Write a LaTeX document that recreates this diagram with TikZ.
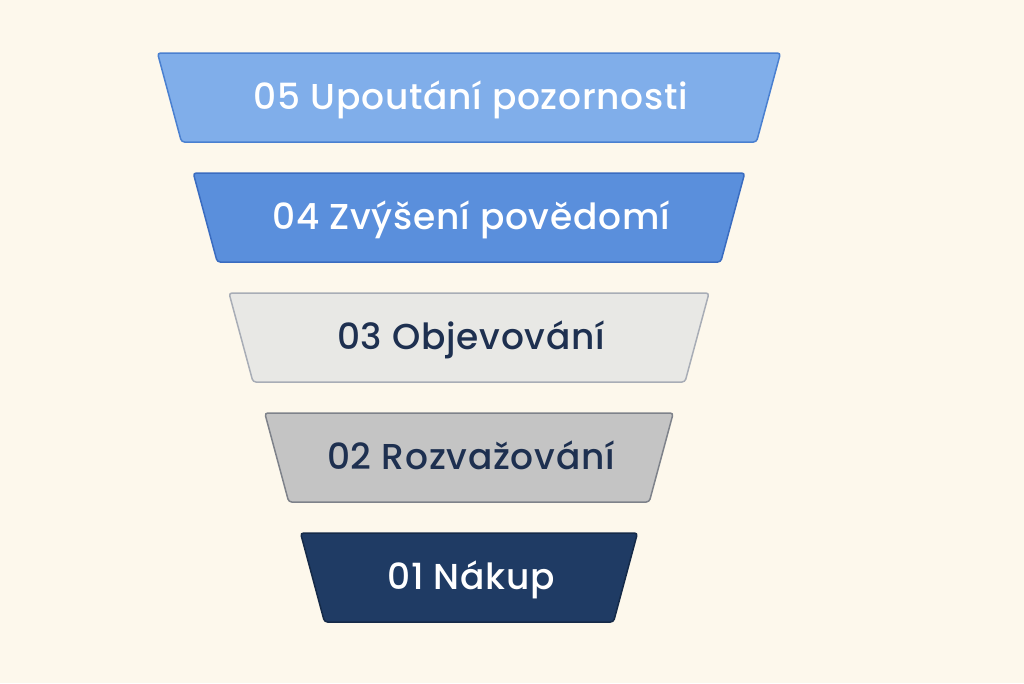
\documentclass[tikz,border=0pt]{standalone}
\usepackage{fontspec}
\setmainfont{Poppins}[BoldFont={Poppins Medium}, LetterSpace=2]
\usepackage{xcolor}
\usepackage{tikz}

\definecolor{paper}{HTML}{FDF8EC}
\definecolor{sky}{HTML}{80AEEA}
\definecolor{skyline}{HTML}{4A80D0}
\definecolor{azure}{HTML}{5A8FDC}
\definecolor{azureline}{HTML}{3A6CC0}
\definecolor{mist}{HTML}{E8E8E5}
\definecolor{mistline}{HTML}{A8ADB6}
\definecolor{stone}{HTML}{C4C4C4}
\definecolor{stoneline}{HTML}{7E828A}
\definecolor{navy}{HTML}{1F3B64}
\definecolor{navyline}{HTML}{152A48}
\definecolor{ink}{HTML}{1E3050}

\tikzset{
  level/.style={line width=1.5pt, rounded corners=3pt},
  levellabel/.style={font=\fontsize{36}{40}\selectfont\bfseries, inner sep=0pt, anchor=base}
}

\begin{document}
\begin{tikzpicture}[x=1pt, y=-1pt]

% paper and page size
\fill[paper] (0,0) rectangle (1024,683);
\useasboundingbox (0,0) rectangle (1024,683);

% five funnel levels, widest on top
 \foreach \n/\fc/\dc/\tc/\txt [count=\i] in
   {05/sky/skyline/white/Upoutání pozornosti,
    04/azure/azureline/white/Zvýšení povědomí,
    03/mist/mistline/ink/Objevování,
    02/stone/stoneline/ink/Rozvažování,
    01/navy/navyline/white/Nákup}
  {
    \pgfmathsetmacro\yt{53+120*(\i-1)}
    \pgfmathsetmacro\yb{\yt+89}
    \pgfmathsetmacro\hw{311.5-35.75*(\i-1)}
    \draw[level, draw=\dc, fill=\fc]
     (469-\hw,\yt) -- (469+\hw,\yt) -- (469+\hw-24,\yb) -- (469-\hw+24,\yb) -- cycle;
    \path
    (471,\yt+56) node [levellabel, text=\tc] (level\n) {\n{} \txt};
  }

\end{tikzpicture}
\end{document}
